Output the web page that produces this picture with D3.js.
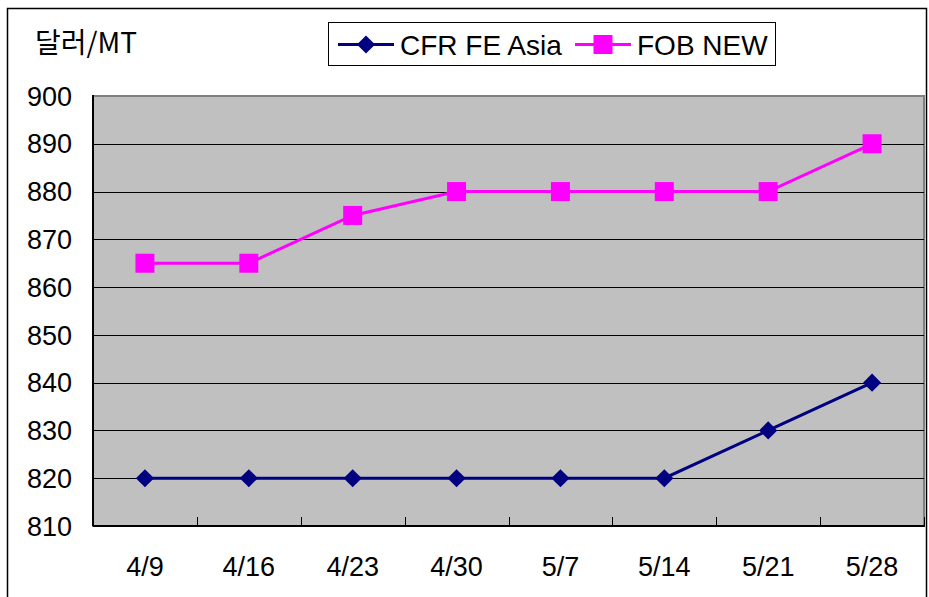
<!DOCTYPE html>
<html>
<head>
<meta charset="utf-8">
<script src="https://cdn.jsdelivr.net/npm/d3@7"></script>
<style>
  body { margin: 0; background: #fff; }
  svg { display: block; font-family: "Liberation Sans", Arial, "Noto Sans CJK KR", sans-serif; }
</style>
</head>
<body>
<svg id="chart"></svg>
<script>
// data
var dates = ["4/9", "4/16", "4/23", "4/30", "5/7", "5/14", "5/21", "5/28"];
var cfrFeAsia = [820, 820, 820, 820, 820, 820, 830, 840];
var fobNew = [865, 865, 875, 880, 880, 880, 880, 890];
var yTicks = [810, 820, 830, 840, 850, 860, 870, 880, 890, 900];
var seriesNames = ["CFR FE Asia", "FOB NEW"];

var W = 929, H = 597;
var margin = { top: 96, right: 5, bottom: 71, left: 93 };
var width = W - margin.left - margin.right;
var height = H - margin.top - margin.bottom;

var svg = d3.select("#chart").attr("width", W).attr("height", H);

// outer frame
svg.append("rect")
  .attr("x", 7.5).attr("y", 8.5)
  .attr("width", 919).attr("height", 600)
  .attr("fill", "none").attr("stroke", "#000").attr("stroke-width", 1.5);

var x = d3.scaleBand().domain(dates).range([0, width]);
var y = d3.scaleLinear().domain([810, 900]).range([height, 0]);

var g = svg.append("g").attr("transform", "translate(" + margin.left + "," + margin.top + ")");

g.append("rect")
  .attr("width", width).attr("height", height)
  .attr("fill", "#c0c0c0")
  .attr("stroke", "#808080").attr("stroke-width", 2);

// gridlines
g.append("g")
  .selectAll("line")
  .data(yTicks.filter(function (d) { return d > 810 && d < 900; }))
  .join("line")
  .attr("x1", 0).attr("x2", width)
  .attr("y1", function (d) { return Math.round(y(d)) + 0.5; })
  .attr("y2", function (d) { return Math.round(y(d)) + 0.5; })
  .attr("stroke", "#000").attr("stroke-width", 1);

// axes lines
g.append("line").attr("x1", 0).attr("x2", 0).attr("y1", -1).attr("y2", height)
  .attr("stroke", "#000").attr("stroke-width", 2);
g.append("line").attr("x1", 0).attr("x2", width + 1).attr("y1", height).attr("y2", height)
  .attr("stroke", "#000").attr("stroke-width", 2);

// x ticks between categories (pointing up into the plot)
g.append("g")
  .selectAll("line")
  .data(dates.slice(1))
  .join("line")
  .attr("x1", function (d) { return Math.round(x(d)) + 0.5; })
  .attr("x2", function (d) { return Math.round(x(d)) + 0.5; })
  .attr("y1", height - 9).attr("y2", height)
  .attr("stroke", "#000").attr("stroke-width", 1);
g.append("line")
  .attr("x1", width + 0.5).attr("x2", width + 0.5)
  .attr("y1", height - 9).attr("y2", height)
  .attr("stroke", "#000").attr("stroke-width", 1);

// y labels
g.append("g")
  .selectAll("text")
  .data(yTicks)
  .join("text")
  .attr("x", -21).attr("y", function (d) { return y(d); })
  .attr("dy", "0.36em")
  .attr("text-anchor", "end")
  .attr("font-size", 27)
  .attr("fill", "#000")
  .text(function (d) { return d; });

// x labels
g.append("g")
  .selectAll("text")
  .data(dates)
  .join("text")
  .attr("x", function (d) { return x(d) + x.bandwidth() / 2; })
  .attr("y", height + 50)
  .attr("text-anchor", "middle")
  .attr("font-size", 27)
  .attr("fill", "#000")
  .text(function (d) { return d; });

var cx = function (d, i) { return x(dates[i]) + x.bandwidth() / 2; };
var line = d3.line().x(cx).y(function (d) { return y(d); });

// CFR FE Asia
g.append("path").datum(cfrFeAsia)
  .attr("d", line).attr("fill", "none")
  .attr("stroke", "#000080").attr("stroke-width", 3);
g.append("g").selectAll("path")
  .data(cfrFeAsia).join("path")
  .attr("d", d3.symbol(d3.symbolDiamond2, 210))
  .attr("transform", function (d, i) { return "translate(" + cx(d, i) + "," + y(d) + ")"; })
  .attr("fill", "#000080");

// FOB NEW
g.append("path").datum(fobNew)
  .attr("d", line).attr("fill", "none")
  .attr("stroke", "#ff00ff").attr("stroke-width", 3);
g.append("g").selectAll("rect")
  .data(fobNew).join("rect")
  .attr("x", function (d, i) { return cx(d, i) - 9.5; })
  .attr("y", function (d) { return y(d) - 9.5; })
  .attr("width", 19).attr("height", 19)
  .attr("fill", "#ff00ff");

// y axis title
svg.append("text")
  .attr("x", 35).attr("y", 53)
  .attr("font-size", 28)
  .attr("font-family", "'Noto Sans CJK KR', 'Liberation Sans', sans-serif")
  .attr("fill", "#000")
  .text("달러/MT");

// legend
var legend = svg.append("g");
legend.append("rect")
  .attr("x", 328.5).attr("y", 22.5).attr("width", 447).attr("height", 43)
  .attr("fill", "#fff").attr("stroke", "#000").attr("stroke-width", 1);

var legendItems = [
  { name: seriesNames[0], color: "#000080", x: 338, tx: 400, shape: "diamond" },
  { name: seriesNames[1], color: "#ff00ff", x: 575, tx: 637, shape: "square" }
];
legendItems.forEach(function (it) {
  var ly = 44.5;
  legend.append("line")
    .attr("x1", it.x).attr("x2", it.x + 56).attr("y1", ly).attr("y2", ly)
    .attr("stroke", it.color).attr("stroke-width", 3);
  if (it.shape === "diamond") {
    legend.append("path")
      .attr("d", d3.symbol(d3.symbolDiamond2, 210))
      .attr("transform", "translate(" + (it.x + 28) + "," + ly + ")")
      .attr("fill", it.color);
  } else {
    legend.append("rect")
      .attr("x", it.x + 28 - 9.5).attr("y", ly - 9.5)
      .attr("width", 19).attr("height", 19)
      .attr("fill", it.color);
  }
  legend.append("text")
    .attr("x", it.tx).attr("y", ly).attr("dy", "0.36em")
    .attr("font-size", 28)
    .attr("fill", "#000")
    .text(it.name);
});
</script>
</body>
</html>
